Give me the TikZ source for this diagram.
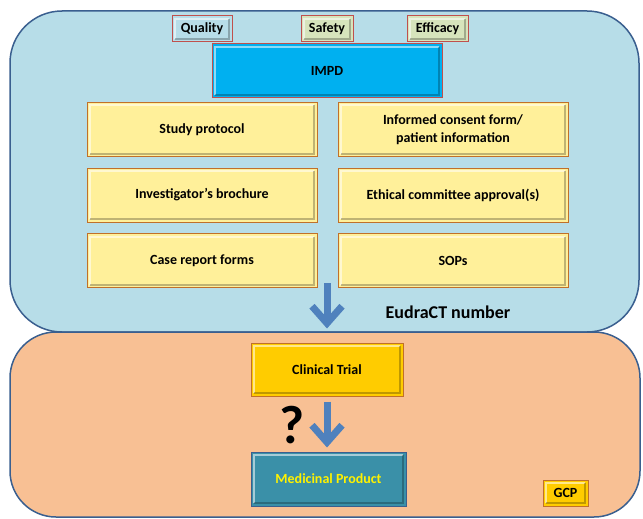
\documentclass[tikz,border=0pt]{standalone}
\usepackage{fontspec}
\setmainfont{Carlito}
\usetikzlibrary{arrows.meta}
\definecolor{panelblue}{HTML}{B7DDE8}
\definecolor{panelorange}{HTML}{F8C094}
\definecolor{panelline}{HTML}{3A5F8F}
\definecolor{docyellow}{HTML}{FFF09A}
\definecolor{docline}{HTML}{C0702A}
\definecolor{impdblue}{HTML}{00B0F0}
\definecolor{tagred}{HTML}{C0504D}
\definecolor{tagolive}{HTML}{D7E4BC}
\definecolor{trialgold}{HTML}{FFCC00}
\definecolor{productteal}{HTML}{3A90A8}
\definecolor{arrowblue}{HTML}{4F81BD}
\tikzset{bevel/.style={path picture={
    \draw[white,opacity=.55,line width=2pt]
      ([shift={(3pt,3pt)}]path picture bounding box.south west) |-
      ([shift={(-3pt,-3pt)}]path picture bounding box.north east);
    \draw[black,opacity=.25,line width=2pt]
      ([shift={(3pt,3pt)}]path picture bounding box.south west) -|
      ([shift={(-3pt,-3pt)}]path picture bounding box.north east);}}}
\tikzset{basic/.style={draw,line width=1pt,font=\bfseries\fontsize{14}{18}\selectfont,
                       align=center,inner sep=0pt,bevel}}
\tikzset{docbox/.style={basic,fill=docyellow,draw=docline,
                        minimum width=230pt,minimum height=54pt}}
\tikzset{tag/.style={basic,draw=tagred,fill=tagolive,minimum height=26pt}}

\begin{document}
\begin{tikzpicture}[x=1pt,y=-1pt]
    \tikzstyle{panel}=[draw=panelline,line width=1.5pt]
    \tikzstyle{flow}=[arrowblue,line width=7pt,-{Straight Barb[length=17pt,width=30pt]}]
    \useasboundingbox (0,0) rectangle (643,519);

    % the two phases
    \draw[panel,fill=panelblue,rounded corners=52pt] (10,11) rectangle (639,332);
    \draw[panel,fill=panelorange,rounded corners=46pt] (10,332) rectangle (640,517);

    % dossier
    \node[tag,fill=panelblue,minimum width=60pt] (quality) at (202,29) {Quality};
    \node[tag,minimum width=52pt] (safety) at (327,29) {Safety};
    \node[tag,minimum width=61pt] (efficacy) at (437.5,29) {Efficacy};
    \node[basic,fill=impdblue,draw=tagred,minimum width=230pt,minimum height=54pt]
         (impd) at (327,71) {IMPD};

    \foreach \l/\r [count=\i] in {Study protocol/{Informed consent form/\\patient information},
                                  Investigator’s brochure/Ethical committee approval(s),
                                  Case report forms/SOPs}{%
          \node[docbox] (left\i) at (202,64+\i*65.5) {\l};
          \node[docbox] (right\i) at (453,64+\i*65.5) {\r};
    }

    \coordinate (gap) at (327,283);
    \node[font=\bfseries\fontsize{18}{21}\selectfont] (eudract) at (448,312) {EudraCT number};

    % trial
    \node[basic,fill=trialgold,draw=docline,minimum width=152pt,minimum height=53pt]
         (trial) at (327,369.5) {Clinical Trial};
    \node[basic,fill=productteal,draw=panelline,text=yellow,minimum width=155pt,minimum height=54pt]
         (product) at (328.5,479) {Medicinal Product};
    \node[basic,fill=trialgold,draw=docline,minimum width=45pt,minimum height=26pt]
         (gcp) at (565.5,493) {GCP};
    \node[font=\bfseries\fontsize{54}{54}\selectfont] (question) at (292,425) {?};

    \draw[flow,shorten >=14pt] (gap) -- (trial.north);
    \draw[flow,shorten <=5pt,shorten >=4pt] (trial.south) -- (trial.south |- product.north);
\end{tikzpicture}
\end{document}
